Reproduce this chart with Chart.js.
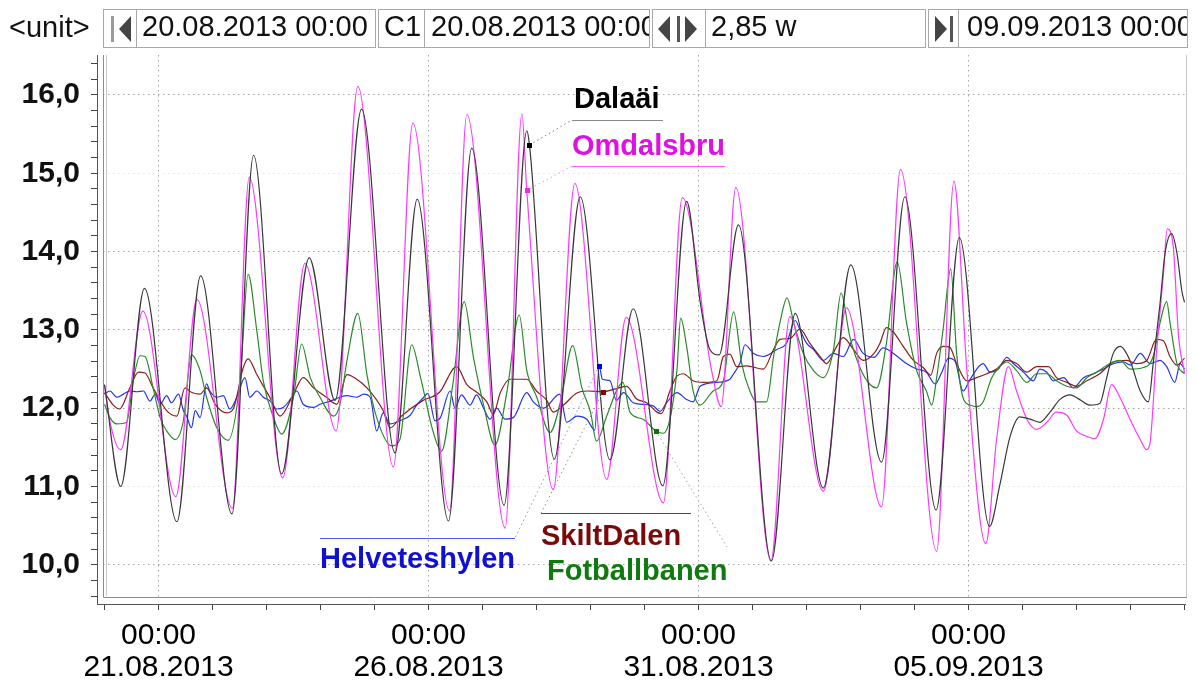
<!DOCTYPE html>
<html><head><meta charset="utf-8">
<script src="https://cdn.jsdelivr.net/npm/chart.js@4.4.1/dist/chart.umd.min.js"></script>
<style>
html,body{margin:0;padding:0;background:#fff;overflow:hidden;}
#wrap{position:absolute;left:0;top:0;width:1197px;height:686px;}
.t{position:absolute;font-family:'Liberation Sans',Arial,sans-serif;white-space:nowrap;}
.box{position:absolute;top:9px;height:39px;border:1px solid #a8a8a8;box-sizing:border-box;overflow:hidden;background:#fff;}
.box .s{position:absolute;left:5px;top:2px;font-size:29px;line-height:29px;color:#111;font-family:'Liberation Sans',Arial,sans-serif;white-space:nowrap;}
.bar{position:absolute;top:6px;width:3px;height:26px;background:#555;}
.tl{position:absolute;top:6px;width:0;height:0;border-top:13px solid transparent;border-bottom:13px solid transparent;border-right:12px solid #444;}
.tr{position:absolute;top:6px;width:0;height:0;border-top:13px solid transparent;border-bottom:13px solid transparent;border-left:12px solid #444;}
.lab{font-size:29px;line-height:29px;font-weight:bold;}
</style></head>
<body>
<div id="wrap"><canvas id="c" width="1197" height="686"></canvas></div>

<div class="t" style="left:9px;top:13px;font-size:29px;line-height:29px;color:#111;">&lt;unit&gt;</div>
<div class="box" style="left:103px;width:34px;"><div class="bar" style="left:7px;background:#999;"></div><div class="tl" style="left:15px;"></div></div>
<div class="box" style="left:136px;width:240px;"><div class="s">20.08.2013 00:00</div></div>
<div class="box" style="left:378px;width:47px;"><div class="s">C1</div></div>
<div class="box" style="left:424px;width:226px;"><div class="s" style="left:6px;">20.08.2013 00:00</div></div>
<div class="box" style="left:652px;width:54px;"><div class="tl" style="left:5px;"></div><div class="bar" style="left:24px;"></div><div class="tr" style="left:32px;"></div></div>
<div class="box" style="left:705px;width:221px;"><div class="s">2,85 w</div></div>
<div class="box" style="left:928px;width:31px;"><div class="tr" style="left:6px;"></div><div class="bar" style="left:21px;"></div></div>
<div class="box" style="left:958px;width:230px;"><div class="s" style="left:8px;">09.09.2013 00:00</div></div>

<div class="t lab" style="left:574px;top:84px;color:#000;">Dalaäi</div>
<div class="t lab" style="left:572px;top:131px;color:#e010e0;">Omdalsbru</div>
<div class="t lab" style="left:541px;top:521px;color:#7a0a0a;">SkiltDalen</div>
<div class="t lab" style="left:547px;top:556px;color:#107a10;">Fotballbanen</div>
<div class="t lab" style="left:320px;top:544px;color:#1010d0;">Helveteshylen</div>

<script>
// x = days since 20.08.2013 00:00, y = value
const dalaai = [[0,12.3],[0.30,11.0],[0.74,13.53],[1.34,10.55],[1.78,13.69],[2.36,10.65],[2.76,15.23],[3.28,11.16],[3.79,13.92],[4.27,12.1],[4.76,15.82],[5.38,11.43],[5.79,14.67],[6.37,10.56],[6.80,15.32],[7.40,10.76],[7.82,15.54],[7.87,15.36],[8.33,11.35],[8.81,14.70],[9.36,11.34],[9.79,13.27],[10.34,11.01],[10.78,14.64],[11.03,13.36],[11.21,12.75],[11.38,12.68],[11.74,14.34],[12.35,10.05],[12.79,13.21],[13.31,10.98],[13.82,13.83],[14.39,11.31],[14.82,14.70],[15.40,10.70],[15.83,14.18],[16.39,10.49],[16.58,11.02],[16.77,11.64],[16.95,11.89],[17.14,11.86],[17.32,11.82],[17.51,11.95],[17.69,12.11],[17.88,12.17],[18.06,12.11],[18.25,12.04],[18.43,12.06],[18.56,12.39],[18.68,12.70],[18.81,12.79],[18.99,12.61],[19.18,12.22],[19.33,12.08],[19.42,12.57],[19.55,13.36],[19.64,13.98],[19.76,14.23],[19.86,13.98],[19.95,13.5],[20.0,13.35]];
const omdalsbru = [[0,12.3],[0.08,11.9],[0.30,11.47],[0.71,13.24],[1.32,10.87],[1.71,13.39],[2.37,10.72],[2.68,14.95],[3.30,11.11],[3.71,13.85],[4.29,11.71],[4.69,16.11],[5.35,11.25],[5.71,15.64],[6.39,10.69],[6.71,15.75],[7.42,10.47],[7.73,15.76],[7.82,14.78],[8.31,10.96],[8.71,14.87],[9.30,11.09],[9.66,13.16],[10.35,10.79],[10.70,14.69],[11.24,12.49],[11.42,12.02],[11.69,14.82],[12.34,10.05],[12.69,13.17],[13.31,10.94],[13.74,13.28],[14.39,10.74],[14.74,15.05],[15.41,10.17],[15.73,14.9],[15.97,12.48],[16.32,10.27],[16.52,11.6],[16.74,12.53],[16.89,12.22],[17.08,11.86],[17.26,11.73],[17.45,11.82],[17.63,11.95],[17.82,11.91],[18.0,11.71],[18.19,11.64],[18.34,11.61],[18.5,11.86],[18.65,12.3],[18.81,12.13],[18.99,11.86],[19.18,11.6],[19.30,11.47],[19.36,11.55],[19.48,12.7],[19.61,13.72],[19.68,14.29],[19.79,14.07],[19.89,12.92],[20.0,12.45]];
const fotballbanen = [[0,12.05],[0.10,11.88],[0.23,11.8],[0.41,11.82],[0.53,12.35],[0.66,12.67],[0.75,12.66],[0.90,12.26],[1.03,11.88],[1.15,11.71],[1.31,11.6],[1.46,11.84],[1.61,12.68],[1.77,12.48],[1.89,12.14],[2.08,11.75],[2.29,11.59],[2.51,12.35],[2.66,13.71],[2.82,12.99],[2.94,12.35],[3.13,11.88],[3.28,11.67],[3.50,12.14],[3.65,12.82],[3.81,12.39],[3.99,12.14],[4.24,11.9],[4.36,12.05],[4.50,12.65],[4.69,13.21],[4.86,12.43],[5.04,11.88],[5.32,11.52],[5.47,11.6],[5.69,12.81],[5.85,12.4],[6.09,11.69],[6.24,11.45],[6.45,12.3],[6.66,13.36],[6.83,12.66],[7.02,12.04],[7.23,11.53],[7.45,12.2],[7.68,13.19],[7.82,12.48],[8.0,12.15],[8.25,11.69],[8.45,12.1],[8.67,12.8],[8.84,12.26],[9.0,11.95],[9.11,11.58],[9.30,11.9],[9.50,12.25],[9.60,12.33],[9.73,11.95],[9.97,11.86],[10.21,11.71],[10.35,11.68],[10.47,11.86],[10.60,12.48],[10.67,13.15],[10.78,12.79],[10.90,12.22],[11.03,12.04],[11.27,12.22],[11.46,12.35],[11.65,13.23],[11.80,12.57],[11.95,12.22],[12.08,12.08],[12.26,12.08],[12.39,12.66],[12.51,13.1],[12.64,13.41],[12.76,13.1],[12.94,12.7],[13.13,12.48],[13.31,12.39],[13.50,12.75],[13.64,13.47],[13.80,12.92],[14.0,12.5],[14.18,12.3],[14.30,12.26],[14.48,12.83],[14.68,13.87],[14.85,13.1],[15.04,12.48],[15.22,12.22],[15.32,12.04],[15.41,12.39],[15.53,13.01],[15.67,13.78],[15.78,12.7],[15.90,12.13],[16.03,12.04],[16.15,12.02],[16.27,12.08],[16.43,12.39],[16.58,12.53],[16.71,12.59],[16.89,12.48],[17.08,12.33],[17.26,12.44],[17.45,12.44],[17.63,12.35],[17.82,12.28],[18.0,12.26],[18.19,12.39],[18.37,12.46],[18.62,12.57],[18.81,12.61],[18.99,12.5],[19.24,12.52],[19.42,12.66],[19.55,13.1],[19.67,13.36],[19.73,13.1],[19.86,12.57],[20.0,12.44]];
const skiltdalen = [[0,12.2],[0.15,12.05],[0.28,11.99],[0.47,12.26],[0.63,12.46],[0.75,12.45],[0.90,12.26],[1.15,11.97],[1.34,11.9],[1.49,12.26],[1.62,12.2],[1.77,12.18],[1.89,12.26],[2.05,12.05],[2.26,11.94],[2.39,12.0],[2.57,12.52],[2.66,12.63],[2.82,12.43],[3.06,12.14],[3.25,11.9],[3.50,12.18],[3.68,12.39],[3.87,12.26],[4.11,12.14],[4.30,12.05],[4.49,12.43],[4.65,12.38],[4.86,12.26],[5.16,11.97],[5.29,11.75],[5.50,11.9],[5.90,12.1],[6.20,12.2],[6.52,12.53],[6.71,12.3],[6.90,12.2],[7.08,12.08],[7.20,11.92],[7.33,12.2],[7.51,12.37],[7.82,12.37],[8.0,12.22],[8.19,12.1],[8.31,11.95],[8.50,12.04],[8.74,12.19],[8.95,12.22],[9.23,12.21],[9.48,12.25],[9.67,12.28],[9.85,12.12],[10.04,12.07],[10.23,11.95],[10.31,11.93],[10.47,12.22],[10.60,12.41],[10.72,12.44],[10.90,12.35],[11.10,12.33],[11.34,12.35],[11.46,12.66],[11.58,12.69],[11.71,12.53],[11.89,12.54],[12.20,12.5],[12.39,12.75],[12.51,12.88],[12.69,12.89],[12.88,13.01],[13.06,12.83],[13.25,12.66],[13.37,12.57],[13.56,12.79],[13.68,12.9],[13.87,12.75],[14.05,12.61],[14.25,12.7],[14.36,12.83],[14.48,13.03],[14.61,12.97],[14.79,12.79],[14.98,12.61],[15.16,12.52],[15.30,12.42],[15.41,12.7],[15.53,12.79],[15.65,12.78],[15.78,12.57],[15.97,12.35],[16.15,12.39],[16.34,12.44],[16.52,12.5],[16.71,12.61],[16.89,12.57],[17.08,12.46],[17.26,12.53],[17.48,12.53],[17.63,12.39],[17.82,12.33],[18.0,12.28],[18.19,12.35],[18.43,12.44],[18.68,12.59],[18.93,12.61],[19.11,12.57],[19.30,12.61],[19.48,12.88],[19.61,12.86],[19.73,12.66],[19.86,12.55],[20.0,12.64]];
const helveteshylen = [[0,12.18],[0.10,12.22],[0.23,12.14],[0.35,12.18],[0.47,12.22],[0.60,12.21],[0.72,12.22],[0.84,12.09],[0.94,12.18],[1.03,12.05],[1.15,12.16],[1.24,12.07],[1.37,12.18],[1.46,11.97],[1.52,11.9],[1.61,11.75],[1.68,11.97],[1.77,11.88],[1.89,12.31],[1.95,12.22],[2.08,12.14],[2.20,12.16],[2.32,11.99],[2.45,12.14],[2.60,12.39],[2.69,12.14],[2.82,12.22],[2.94,12.14],[3.07,12.09],[3.19,11.99],[3.31,12.01],[3.47,12.14],[3.56,12.22],[3.68,12.05],[3.87,12.01],[3.99,12.05],[4.18,12.09],[4.36,12.14],[4.49,12.16],[4.67,12.14],[4.80,12.18],[4.92,12.14],[5.04,11.71],[5.16,11.94],[5.29,11.8],[5.47,11.84],[5.66,11.91],[5.78,12.04],[5.90,12.13],[5.99,12.19],[6.12,11.84],[6.22,11.88],[6.40,12.22],[6.49,12.0],[6.61,12.17],[6.77,12.04],[6.89,12.17],[7.02,12.0],[7.14,11.86],[7.26,12.0],[7.42,11.86],[7.57,11.88],[7.82,12.2],[7.94,12.08],[8.13,12.0],[8.43,12.18],[8.56,11.82],[8.75,11.9],[8.93,11.86],[9.08,11.72],[9.16,12.54],[9.22,12.37],[9.36,12.35],[9.48,12.1],[9.61,12.2],[9.79,12.07],[9.97,12.05],[10.16,12.03],[10.29,11.96],[10.41,12.07],[10.60,12.2],[10.78,12.11],[10.90,12.08],[11.03,12.28],[11.34,12.33],[11.58,12.37],[11.65,12.44],[11.77,12.58],[11.86,12.81],[12.02,12.7],[12.20,12.66],[12.45,12.75],[12.63,12.83],[12.79,13.12],[12.88,13.0],[13.0,12.83],[13.13,12.75],[13.31,12.61],[13.50,12.7],[13.68,12.66],[13.87,12.88],[14.05,12.7],[14.25,12.65],[14.42,12.77],[14.61,12.7],[14.85,12.57],[15.04,12.5],[15.22,12.46],[15.38,12.31],[15.50,12.45],[15.63,12.64],[15.75,12.6],[15.90,12.22],[16.03,12.37],[16.27,12.57],[16.40,12.46],[16.55,12.5],[16.71,12.65],[16.83,12.57],[17.02,12.46],[17.20,12.35],[17.32,12.5],[17.45,12.46],[17.57,12.35],[17.76,12.39],[17.94,12.26],[18.13,12.39],[18.31,12.44],[18.50,12.5],[18.68,12.57],[18.87,12.59],[19.0,12.55],[19.18,12.7],[19.36,12.57],[19.55,12.61],[19.67,12.53],[19.82,12.33],[19.92,12.57],[20.0,12.5]];

const seriesNames = ['Dalaäi','Omdalsbru','Fotballbanen','SkiltDalen','Helveteshylen'];
const seriesData = [dalaai, omdalsbru, fotballbanen, skiltdalen, helveteshylen];
const seriesColors = ['#383838','#ff38ff','#2a8a2a','#8e1c1c','#2236ee'];

// axis ticks
const xMajorDays = [1, 6, 11, 16];
const xMajorTimes = ['00:00','00:00','00:00','00:00'];
const xMajorDates = ['21.08.2013','26.08.2013','31.08.2013','05.09.2013'];
const xTickDays = [0,1,2,3,4,5,6,7,8,9,10,11,12,13,14,15,16,17,18,19,20];
const yLabelValues = [10, 11, 12, 13, 14, 15, 16];
const yStrongGrid = [10, 12, 13, 14, 16];
const yTickValues = [9.6,9.8,10,10.2,10.4,10.6,10.8,11,11.2,11.4,11.6,11.8,12,12.2,12.4,12.6,12.8,13,13.2,13.4,13.6,13.8,14,14.2,14.4,14.6,14.8,15,15.2,15.4,15.6,15.8,16,16.2,16.4];

// label markers (points on the curves) and their leader geometry
const markers = [
  {at:[7.87,15.36], color:'#000', leader:'#7a7a7a', to:[572,120], line:[572,663,120], lineColor:'#8a8a8a'},
  {at:[7.82,14.78], color:'#ff20ff', leader:'#ff80ff', to:[572,166], line:[572,725,166], lineColor:'#ff60ff'},
  {at:[9.23,12.21], color:'#8b0000', leader:'#9a8aa0', to:[541,513], line:[541,691,513], lineColor:'#9a2a2a'},
  {at:[9.16,12.54], color:'#0000e0', leader:'#8a90d8', to:[515,538], line:[320,515,538], lineColor:'#4a5cff'},
  {at:[10.21,11.71], color:'#107010', leader:'#90b090', to:[727,547], line:null}
];

const near = (a,b)=>Math.abs(a-b)<1e-6;
const FONT = "'Liberation Sans', Arial, sans-serif";

const overlay = {
  id:'overlay',
  beforeDatasetsDraw(chart){
    const {ctx, chartArea:ca} = chart;
    ctx.save();
    ctx.fillStyle = '#fff';
    ctx.fillRect(ca.left+1, ca.top, 102-ca.left, ca.bottom-ca.top-1);
    ctx.fillRect(ca.left+1, 598, ca.right-ca.left, 5.5);
    ctx.lineWidth = 1;
    ctx.strokeStyle = '#8c8c8c';
    ctx.beginPath(); ctx.moveTo(103.5, ca.top); ctx.lineTo(103.5, 597.5); ctx.lineTo(1187, 597.5); ctx.stroke();
    ctx.strokeStyle = '#c8c8c8';
    ctx.beginPath(); ctx.moveTo(106.5, ca.top); ctx.lineTo(106.5, 596); ctx.stroke();
    ctx.beginPath(); ctx.moveTo(1186.5, ca.top); ctx.lineTo(1186.5, 597); ctx.stroke();
    ctx.restore();
  },
  afterDatasetsDraw(chart){
    const {ctx, scales:{x, y}} = chart;
    ctx.save();
    ctx.lineWidth = 1;
    markers.forEach(m=>{
      const px = x.getPixelForValue(m.at[0]), py = y.getPixelForValue(m.at[1]);
      if (m.line){
        ctx.setLineDash([]);
        ctx.strokeStyle = m.lineColor;
        ctx.beginPath(); ctx.moveTo(m.line[0], m.line[2]+0.5); ctx.lineTo(m.line[1], m.line[2]+0.5); ctx.stroke();
      }
      ctx.setLineDash([1.5,3]);
      ctx.strokeStyle = m.leader;
      ctx.beginPath(); ctx.moveTo(px, py); ctx.lineTo(m.to[0], m.to[1]); ctx.stroke();
      ctx.setLineDash([]);
      ctx.fillStyle = m.color;
      ctx.fillRect(Math.round(px)-2, Math.round(py)-2, 5, 5);
    });
    ctx.restore();
  }
};

new Chart(document.getElementById('c'), {
  type:'line',
  data:{
    datasets: seriesNames.map((n,i)=>({
      label:n,
      data: seriesData[i].map(p=>({x:p[0], y:p[1]})),
      borderColor: seriesColors[i],
      backgroundColor: seriesColors[i],
      borderWidth: 1.2,
      pointRadius:0,
      fill:false,
      cubicInterpolationMode:'monotone'
    }))
  },
  options:{
    responsive:false,
    animation:false,
    events:[],
    layout:{padding:{top:55, right:12, left:0, bottom:0}},
    plugins:{legend:{display:false}, tooltip:{enabled:false}},
    scales:{
      x:{
        type:'linear', min:-0.139, max:20.009,
        afterBuildTicks:(s)=>{ s.ticks = xTickDays.map(v=>({value:v})); },
        afterFit:(s)=>{ s.height = 82; },
        ticks:{
          autoSkip:false, maxRotation:0, minRotation:0, padding:10, color:'#000',
          font:{family:FONT, size:30, lineHeight:1.05},
          callback:(v)=>{ const k = xMajorDays.indexOf(Math.round(v)); return k>=0 && near(v,Math.round(v)) ? [xMajorTimes[k], xMajorDates[k]] : ''; }
        },
        grid:{
          drawOnChartArea:true, tickLength:6, tickColor:'#444', lineWidth:1,
          color:(c)=> (c.tick && xMajorDays.includes(Math.round(c.tick.value))) ? '#a6a6a6' : 'rgba(0,0,0,0)'
        },
        border:{display:true, color:'#555', width:1, dash:[1.5,3.5]}
      },
      y:{
        type:'linear', min:9.5, max:16.51,
        afterBuildTicks:(s)=>{ s.ticks = yTickValues.map(v=>({value:v})); },
        afterFit:(s)=>{ s.width = 97; },
        ticks:{
          autoSkip:false, padding:11, color:'#111',
          font:{family:FONT, size:30, weight:'bold'},
          callback:(v)=> yLabelValues.some(l=>near(l,v)) ? v.toFixed(1).replace('.', ',') : ''
        },
        grid:{
          drawOnChartArea:true, tickLength:6, tickColor:'#444', lineWidth:1,
          color:(c)=>{ if(!c.tick) return 'rgba(0,0,0,0)'; const v=c.tick.value;
            if (yStrongGrid.some(l=>near(l,v))) return '#a6a6a6';
            if (yLabelValues.some(l=>near(l,v))) return '#e2e2e2';
            return 'rgba(0,0,0,0)'; }
        },
        border:{display:true, color:'#555', width:1, dash:[1.5,3.5]}
      }
    }
  },
  plugins:[overlay]
});
</script>
</body></html>
